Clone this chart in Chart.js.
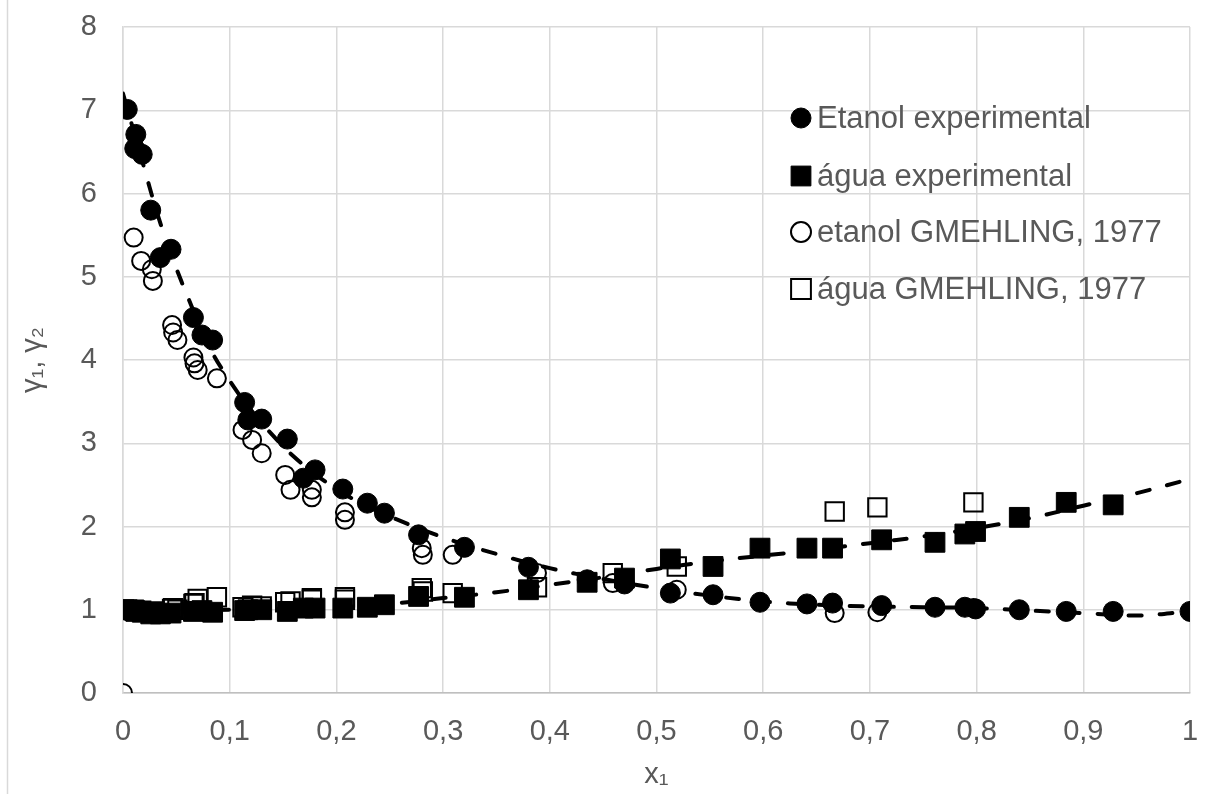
<!DOCTYPE html>
<html>
<head>
<meta charset="utf-8">
<script src="https://cdn.jsdelivr.net/npm/chart.js@4.4.1/dist/chart.umd.min.js"></script>
<style>
  html, body { margin: 0; padding: 0; background: #fff; }
  #wrap { width: 1218px; height: 794px; position: relative; }
</style>
</head>
<body>
<div id="wrap"><canvas id="chart"></canvas></div>
<script>
/* ---- data ---- */
const xTicks = [0, 0.1, 0.2, 0.3, 0.4, 0.5, 0.6, 0.7, 0.8, 0.9, 1];
const yTicks = [0, 1, 2, 3, 4, 5, 6, 7, 8];

// Etanol experimental (filled circles)
const etanolExpX = [0.004, 0.011, 0.012, 0.018, 0.026, 0.035, 0.045, 0.066, 0.074, 0.084,
  0.114, 0.117, 0.130, 0.154, 0.169, 0.180, 0.206, 0.229, 0.245, 0.277, 0.320, 0.380,
  0.435, 0.470, 0.513, 0.553, 0.597, 0.641, 0.665, 0.711, 0.761, 0.789, 0.799, 0.840,
  0.884, 0.928, 1.0];
const etanolExpY = [7.01, 6.54, 6.71, 6.47, 5.80, 5.23, 5.33, 4.51, 4.30, 4.24,
  3.49, 3.28, 3.29, 3.05, 2.58, 2.68, 2.45, 2.28, 2.16, 1.90, 1.75, 1.51,
  1.36, 1.31, 1.20, 1.18, 1.09, 1.07, 1.08, 1.05, 1.03, 1.03, 1.01, 1.00,
  0.98, 0.98, 0.98];

// água experimental (filled squares)
const aguaExpX = [0.001, 0.004, 0.011, 0.012, 0.018, 0.026, 0.035, 0.045, 0.066, 0.074, 0.084,
  0.114, 0.117, 0.130, 0.154, 0.169, 0.180, 0.206, 0.229, 0.245, 0.277, 0.320, 0.380,
  0.435, 0.470, 0.513, 0.553, 0.597, 0.641, 0.665, 0.711, 0.761, 0.789, 0.799, 0.840,
  0.884, 0.928];
const aguaExpY = [1.00, 1.00, 0.99, 0.98, 0.97, 0.95, 0.95, 0.96, 0.98, 0.99, 0.97,
  0.99, 1.00, 1.00, 0.98, 1.02, 1.02, 1.02, 1.03, 1.06, 1.16, 1.15, 1.24,
  1.33, 1.38, 1.61, 1.52, 1.74, 1.74, 1.74, 1.84, 1.81, 1.91, 1.94, 2.11,
  2.29, 2.26];

// etanol GMEHLING, 1977 (open circles)
const etanolLitX = [0.0, 0.010, 0.017, 0.027, 0.028, 0.046, 0.047, 0.051, 0.066, 0.067, 0.070,
  0.088, 0.112, 0.121, 0.130, 0.152, 0.157, 0.177, 0.177, 0.208, 0.208, 0.280, 0.281,
  0.309, 0.388, 0.459, 0.519, 0.667, 0.707, 0.797];
const etanolLitY = [0.00, 5.47, 5.19, 5.09, 4.95, 4.42, 4.33, 4.24, 4.03, 3.96, 3.88,
  3.78, 3.16, 3.04, 2.88, 2.62, 2.44, 2.44, 2.35, 2.17, 2.08, 1.74, 1.66,
  1.66, 1.44, 1.32, 1.24, 0.96, 0.97, 1.02];

// água GMEHLING, 1977 (open squares)
const aguaLitX = [0.010, 0.017, 0.027, 0.028, 0.046, 0.047, 0.051, 0.066, 0.067, 0.070,
  0.088, 0.112, 0.121, 0.130, 0.152, 0.157, 0.177, 0.177, 0.208, 0.208, 0.280, 0.281,
  0.309, 0.388, 0.459, 0.519, 0.667, 0.707, 0.797];
const aguaLitY = [1.00, 0.99, 0.98, 0.97, 1.01, 1.02, 1.00, 1.07, 1.08, 1.13,
  1.15, 1.03, 1.05, 1.04, 1.09, 1.10, 1.12, 1.14, 1.15, 1.12, 1.26, 1.22,
  1.20, 1.27, 1.44, 1.52, 2.18, 2.23, 2.29];

// model curves (dashed)
const curveEtanolX = [0, 0.01, 0.02, 0.03, 0.04, 0.05, 0.06, 0.08, 0.10, 0.12, 0.14, 0.16,
  0.18, 0.20, 0.22, 0.25, 0.30, 0.35, 0.40, 0.45, 0.50, 0.55, 0.60, 0.65, 0.70, 0.75,
  0.80, 0.85, 0.90, 0.95, 1.0];
const curveEtanolY = [7.2, 6.75, 6.3, 5.85, 5.45, 5.1, 4.78, 4.18, 3.75, 3.4, 3.1, 2.84,
  2.63, 2.45, 2.3, 2.12, 1.87, 1.67, 1.5, 1.37, 1.26, 1.17, 1.1, 1.06, 1.04, 1.03,
  1.02, 0.99, 0.96, 0.93, 0.98];
const curveAguaX = [0, 0.05, 0.10, 0.15, 0.20, 0.25, 0.30, 0.35, 0.40, 0.45, 0.50, 0.55,
  0.60, 0.65, 0.70, 0.75, 0.80, 0.85, 0.90, 0.95, 1.0];
const curveAguaY = [1.0, 0.99, 1.0, 1.01, 1.03, 1.07, 1.14, 1.21, 1.3, 1.39, 1.49, 1.58,
  1.65, 1.72, 1.8, 1.88, 1.98, 2.1, 2.25, 2.4, 2.57];

/* ---- helpers ---- */
const toPoints = (xs, ys) => xs.map((x, i) => ({ x: x, y: ys[i] }));
const FONT = '"Liberation Sans", Arial, sans-serif';
const TEXT = '#595959';
const GRID = '#d9d9d9';

const markerSets = [
  { label: 'Etanol experimental', data: toPoints(etanolExpX, etanolExpY),
    pointStyle: 'circle', pointRadius: 10, backgroundColor: '#000', borderColor: '#000',
    borderWidth: 1, order: 4 },
  { label: 'água experimental', data: toPoints(aguaExpX, aguaExpY),
    pointStyle: 'rect', pointRadius: 14, backgroundColor: '#000', borderColor: '#000',
    borderWidth: 1, order: 3 },
  { label: 'etanol GMEHLING, 1977', data: toPoints(etanolLitX, etanolLitY),
    pointStyle: 'circle', pointRadius: 9, backgroundColor: 'rgba(255,255,255,0)',
    borderColor: '#000', borderWidth: 2, order: 2 },
  { label: 'água GMEHLING, 1977', data: toPoints(aguaLitX, aguaLitY),
    pointStyle: 'rect', pointRadius: 13, backgroundColor: 'rgba(255,255,255,0)',
    borderColor: '#000', borderWidth: 2, order: 1 }
];

const datasets = markerSets.map(s => Object.assign({ type: 'scatter', showLine: false,
  pointHoverRadius: s.pointRadius }, s));

[[curveEtanolX, curveEtanolY], [curveAguaX, curveAguaY]].forEach(([xs, ys]) => {
  datasets.push({
    type: 'line',
    label: '',
    data: toPoints(xs, ys),
    borderColor: '#000',
    borderWidth: 4,
    borderDash: [13, 18],
    borderCapStyle: 'round',
    tension: 0.4,
    pointRadius: 0,
    fill: false,
    order: 0
  });
});

/* legend drawn by hand: only the 4 marker series, at the upper right */
const legendPlugin = {
  id: 'manualLegend',
  afterDraw(chart) {
    const ctx = chart.ctx;
    const rows = [118, 176, 232, 289];
    ctx.save();
    ctx.font = '31px ' + FONT;
    ctx.textBaseline = 'middle';
    ctx.textAlign = 'left';
    markerSets.forEach((s, i) => {
      const y = rows[i];
      ctx.lineWidth = s.borderWidth;
      ctx.strokeStyle = s.borderColor;
      ctx.fillStyle = s.backgroundColor;
      Chart.helpers.drawPoint(ctx, {
        pointStyle: s.pointStyle,
        radius: s.pointStyle === 'rect' ? 14 : 10,
        rotation: 0,
        borderWidth: s.borderWidth
      }, 801, y);
      ctx.fillStyle = TEXT;
      ctx.fillText(s.label, 817, y + 1);
    });
    ctx.restore();
  }
};

/* thin grey chart-area frame on the left, as in the source */
const framePlugin = {
  id: 'frame',
  afterDraw(chart) {
    const ctx = chart.ctx;
    ctx.save();
    ctx.strokeStyle = GRID;
    ctx.lineWidth = 1.5;
    ctx.beginPath();
    ctx.moveTo(7.5, 0);
    ctx.lineTo(7.5, 794);
    ctx.stroke();
    ctx.restore();
  }
};

// drop the label overhang padding so the plot area lands where the source has it
const noOverhang = (scale) => {
  scale.paddingTop = 0;
  scale.paddingBottom = 0;
  scale.paddingLeft = 0;
  scale.paddingRight = 0;
};

new Chart(document.getElementById('chart').getContext('2d'), {
  type: 'scatter',
  data: { datasets: datasets },
  options: {
    responsive: true,
    maintainAspectRatio: false,
    animation: false,
    layout: { padding: { left: 0, right: 28, top: 27, bottom: 0 } },
    plugins: {
      legend: { display: false },
      tooltip: { enabled: false }
    },
    scales: {
      x: {
        type: 'linear',
        min: xTicks[0],
        max: xTicks[xTicks.length - 1],
        afterBuildTicks: (scale) => { scale.ticks = xTicks.map(v => ({ value: v })); },
        afterFit: (scale) => { scale.height = 101; noOverhang(scale); },
        grid: { color: GRID, lineWidth: 1.5, drawTicks: false },
        border: { color: '#bfbfbf', width: 1.5 },
        ticks: {
          padding: 22,
          color: TEXT,
          font: { family: FONT, size: 29 },
          maxRotation: 0,
          callback: (v) => String(v).replace('.', ',')
        },
        title: {
          display: true,
          text: 'x₁',
          color: TEXT,
          font: { family: FONT, size: 29 },
          padding: { top: 0, bottom: 2 }
        }
      },
      y: {
        type: 'linear',
        min: yTicks[0],
        max: yTicks[yTicks.length - 1],
        afterBuildTicks: (scale) => { scale.ticks = yTicks.map(v => ({ value: v })); },
        afterFit: (scale) => { scale.width = 123; noOverhang(scale); },
        grid: { color: GRID, lineWidth: 1.5, drawTicks: false },
        border: { color: GRID, width: 1.5 },
        ticks: {
          padding: 26,
          color: TEXT,
          font: { family: FONT, size: 29 }
        },
        title: {
          display: true,
          text: 'γ₁, γ₂',
          color: TEXT,
          font: { family: FONT, size: 29 },
          padding: { top: 16, bottom: 0 }
        }
      }
    }
  },
  plugins: [legendPlugin, framePlugin]
});
</script>
</body>
</html>
